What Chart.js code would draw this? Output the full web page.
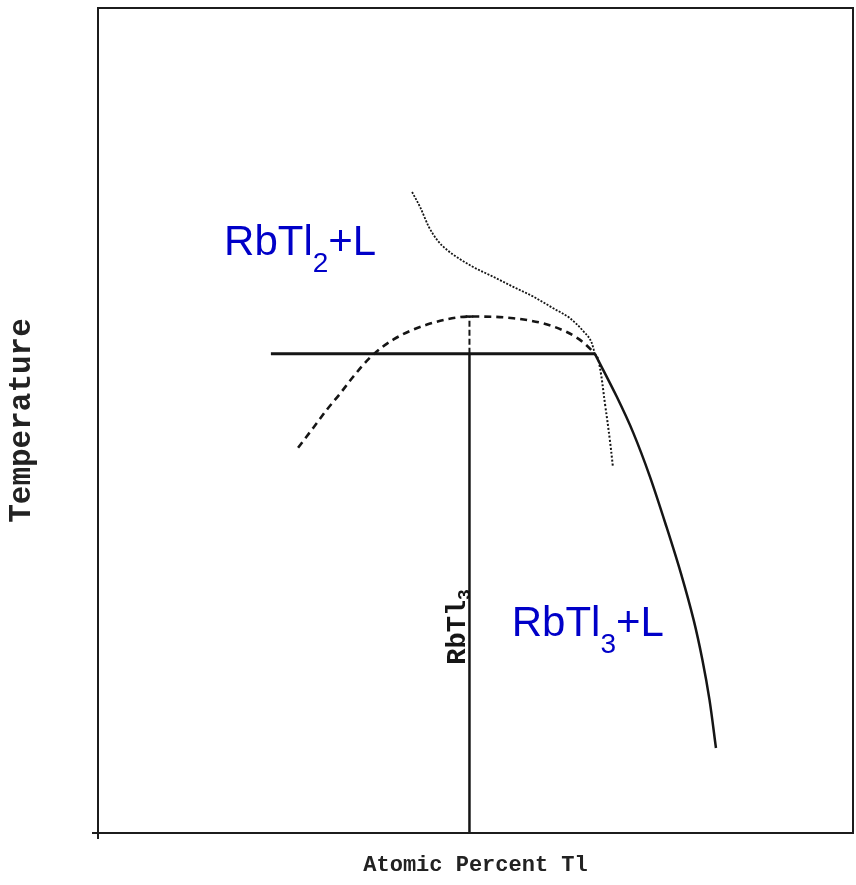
<!DOCTYPE html>
<html>
<head>
<meta charset="utf-8">
<script src="https://cdn.jsdelivr.net/npm/chart.js@4.4.1/dist/chart.umd.min.js"></script>
<style>
  html, body { margin: 0; padding: 0; background: #fff; }
  .wrap { width: 856px; height: 885px; }
</style>
</head>
<body>
<div class="wrap"><canvas id="phase"></canvas></div>
<script>
// x = atomic percent Tl, y = temperature (relative units, 0..100)
const liquidusUpperX = [41.6, 42.7, 43.8, 44.9, 46.2, 47.7, 49.7, 52.4, 55.0, 57.7, 60.3, 62.5, 64.3, 65.4, 65.8];
const liquidusUpperY = [77.7, 75.8, 73.5, 71.9, 70.7, 69.7, 68.6, 67.4, 66.2, 65.0, 63.6, 62.4, 60.8, 59.4, 58.1];

const solidusX = [26.5, 28.5, 30.3, 32.1, 33.8, 36.0, 39.1, 43.5, 49.3, 55.0, 60.3, 63.8, 65.5, 65.8];
const solidusY = [46.7, 49.1, 51.3, 53.3, 55.3, 57.6, 59.8, 61.6, 62.6, 62.4, 61.4, 59.8, 58.4, 58.1];

const eutecticX = [22.9, 65.8];
const eutecticY = [58.1, 58.1];

const compoundX = [49.2, 49.2];
const compoundY = [0, 58.1];
const compoundTopX = [49.2, 49.2];
const compoundTopY = [58.1, 62.6];
const peakCapX = [48.7, 49.7];
const peakCapY = [62.6, 62.6];

const liquidusRightX = [65.8, 68.7, 70.9, 73.1, 75.3, 77.2, 78.9, 80.05, 81.0, 81.85];
const liquidusRightY = [58.1, 52.9, 48.5, 43.2, 37.1, 31.5, 25.8, 21.0, 16.1, 10.3];

const metastableX = [65.8, 66.3, 67.2, 67.8, 68.2];
const metastableY = [58.1, 57.3, 51.7, 47.6, 44.4];

// field labels
const fieldText = ['RbTl', 'RbTl'];
const fieldSub = ['2', '3'];
const fieldTail = ['+L', '+L'];
const fieldX = [16.7, 54.8];
const fieldY = [70.1, 23.9];

const compoundLabel = 'RbTl';
const compoundSub = '3';
const compoundLabelY = 20.4;

const pts = (xs, ys) => xs.map((x, i) => ({x: x, y: ys[i]}));

const ink = '#151515';
const line = (data, width, dash, tension, mode) => ({
    data: data,
    showLine: true,
    borderColor: ink,
    borderWidth: width,
    borderDash: dash,
    pointRadius: 0,
    tension: tension,
    cubicInterpolationMode: mode || 'default'
});

const frame = {
    id: 'frame',
    afterDraw(chart) {
        const {ctx, chartArea: a} = chart;
        ctx.save();
        ctx.strokeStyle = '#1c1c1c';
        ctx.lineWidth = 2;
        ctx.beginPath();
        ctx.moveTo(a.left, a.bottom + 6);
        ctx.lineTo(a.left, a.top);
        ctx.lineTo(a.right, a.top);
        ctx.lineTo(a.right, a.bottom);
        ctx.lineTo(a.left - 6, a.bottom);
        ctx.stroke();
        ctx.restore();
    }
};

const labels = {
    id: 'labels',
    afterDatasetsDraw(chart) {
        const {ctx, scales: {x, y}} = chart;
        ctx.save();
        ctx.textBaseline = 'alphabetic';
        ctx.textAlign = 'left';
        ctx.fillStyle = '#0000c8';
        const big = '42px "Liberation Sans", Arial, sans-serif';
        const small = '28px "Liberation Sans", Arial, sans-serif';
        fieldText.forEach((t, i) => {
            let px = x.getPixelForValue(fieldX[i]);
            const py = y.getPixelForValue(fieldY[i]);
            ctx.font = big;
            ctx.fillText(t, px, py);
            px += ctx.measureText(t).width;
            ctx.font = small;
            ctx.fillText(fieldSub[i], px, py + 17);
            px += ctx.measureText(fieldSub[i]).width;
            ctx.font = big;
            ctx.fillText(fieldTail[i], px, py);
        });

        // compound name written up along the vertical line
        ctx.fillStyle = ink;
        ctx.translate(x.getPixelForValue(compoundX[0]) - 4, y.getPixelForValue(compoundLabelY));
        ctx.rotate(-Math.PI / 2);
        ctx.font = 'bold 27px "Liberation Mono", monospace';
        ctx.fillText(compoundLabel, 0, 0);
        const w = ctx.measureText(compoundLabel).width;
        ctx.font = 'bold 18px "Liberation Mono", monospace';
        ctx.fillText(compoundSub, w, 5);
        ctx.restore();
    }
};

new Chart(document.getElementById('phase'), {
    type: 'scatter',
    data: {
        datasets: [
            line(pts(liquidusUpperX, liquidusUpperY), 1.8, [2, 1.5], 0.4, 'monotone'),
            line(pts(solidusX, solidusY), 2.6, [7, 5], 0.4, 'monotone'),
            line(pts(eutecticX, eutecticY), 3, [], 0),
            line(pts(compoundX, compoundY), 2.5, [], 0),
            line(pts(compoundTopX, compoundTopY), 2, [6, 3], 0),
            line(pts(peakCapX, peakCapY), 2.5, [], 0),
            line(pts(liquidusRightX, liquidusRightY), 2.5, [], 0.3),
            line(pts(metastableX, metastableY), 2, [2, 2], 0.4)
        ]
    },
    options: {
        responsive: true,
        maintainAspectRatio: false,
        animation: false,
        layout: {padding: {top: 8, right: 3, left: 0, bottom: 0}},
        plugins: {legend: {display: false}, tooltip: {enabled: false}},
        scales: {
            x: {
                type: 'linear', min: 0, max: 100,
                ticks: {display: false},
                grid: {display: false, drawTicks: false},
                border: {display: false},
                title: {
                    display: true,
                    text: 'Atomic Percent Tl',
                    color: '#222',
                    font: {family: '"Liberation Mono", monospace', size: 22, weight: 'bold'},
                    padding: {top: 18.8, bottom: 6.8}
                }
            },
            y: {
                type: 'linear', min: 0, max: 100,
                ticks: {display: false},
                grid: {display: false, drawTicks: false},
                border: {display: false},
                title: {
                    display: true,
                    text: 'Temperature',
                    color: '#222',
                    font: {family: '"Liberation Mono", monospace', size: 31, weight: 'bold'},
                    padding: {top: 3.4, bottom: 57.4}
                }
            }
        }
    },
    plugins: [frame, labels]
});
</script>
</body>
</html>
